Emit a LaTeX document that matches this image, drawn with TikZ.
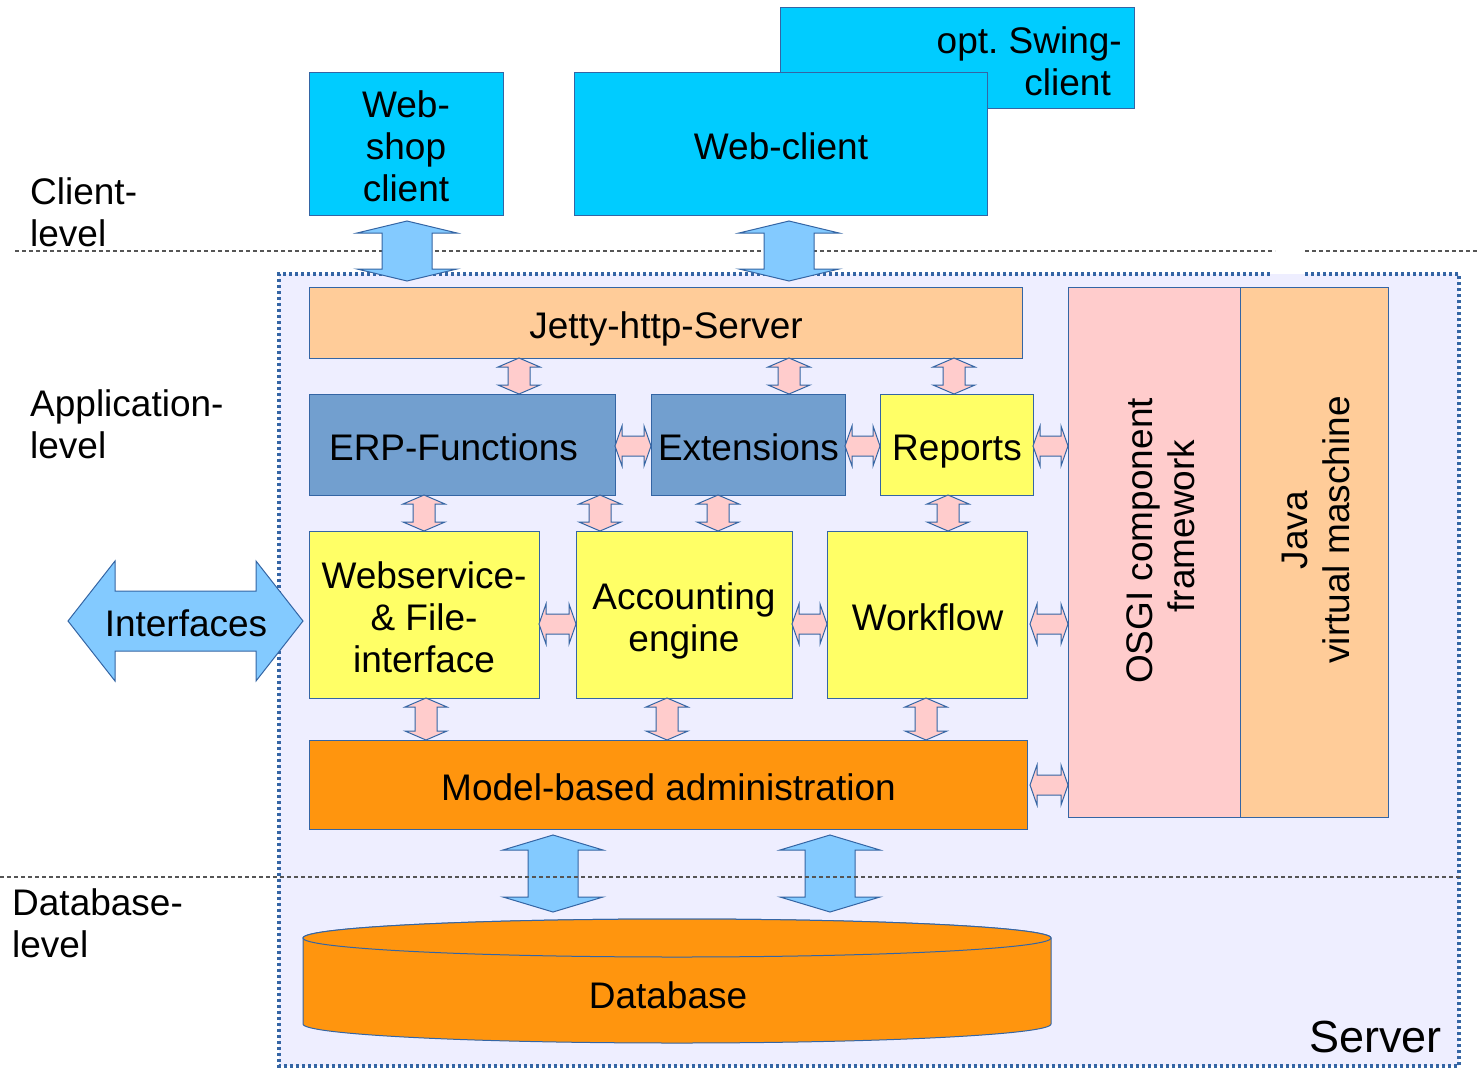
\documentclass[tikz,border=0pt]{standalone}
\usepackage{fontspec}
\setmainfont{Liberation Sans}
\definecolor{cyanbox}{HTML}{00CCFF}
\definecolor{bluebox}{HTML}{729FCF}
\definecolor{yellowbox}{HTML}{FFFF66}
\definecolor{peach}{HTML}{FFCC99}
\definecolor{pinkbox}{HTML}{FFCCCC}
\definecolor{orangebox}{HTML}{FF950E}
\definecolor{arrowblue}{HTML}{83CAFF}
\definecolor{edgeblue}{HTML}{3465A4}
\definecolor{serverbg}{HTML}{EEEEFF}
\definecolor{dashgray}{HTML}{555555}
\newcommand\VDArrow[7][]{\draw[#1] (#2,#3) -- ({#2+#5},{#3+#7}) -- ({#2+#6},{#3+#7}) -- ({#2+#6},{#4-#7}) -- ({#2+#5},{#4-#7}) -- (#2,#4) -- ({#2-#5},{#4-#7}) -- ({#2-#6},{#4-#7}) -- ({#2-#6},{#3+#7}) -- ({#2-#5},{#3+#7}) -- cycle;}
\newcommand\HDArrow[7][]{\draw[#1] (#3,#2) -- ({#3+#7},{#2-#5}) -- ({#3+#7},{#2-#6}) -- ({#4-#7},{#2-#6}) -- ({#4-#7},{#2-#5}) -- (#4,#2) -- ({#4-#7},{#2+#5}) -- ({#4-#7},{#2+#6}) -- ({#3+#7},{#2+#6}) -- ({#3+#7},{#2+#5}) -- cycle;}
\begin{document}
\begin{tikzpicture}[x=1pt,y=-1pt,
  every node/.style={font=\fontsize{37}{42}\selectfont, inner sep=0pt},
  box/.style={draw=edgeblue, line width=1pt, anchor=north west},
  one/.style={text height=33pt, text depth=2pt},
  bigarrow/.style={fill=arrowblue, draw=edgeblue, line width=1pt, line join=miter},
  smallarrow/.style={fill=pinkbox, draw=edgeblue, line width=1pt, line join=miter},
  levelline/.style={draw=dashgray, line width=1.2pt, dash pattern=on 4pt off 3pt},
  serverborder/.style={draw=edgeblue, line width=4pt, dash pattern=on 3pt off 3pt},
  lbl/.style={align=left, anchor=west}]
\useasboundingbox (0,0) rectangle (1479,1068);
% server background
\fill[serverbg] (279,274) rectangle (1459,1066);
\draw[serverborder] (1305,274) -- (1459,274) -- (1459,1066) -- (279,1066) -- (279,274) -- (1272,274);
% level lines (client line under top arrows)
\draw[levelline] (15,251) -- (1275,251);
\draw[levelline] (1305,251) -- (1479,251);
% client boxes
\node[box, fill=cyanbox, minimum width=354pt, minimum height=101pt] (swing) at (780,7) {};
\node[align=right, anchor=east] (swingtxt) at (1122,61) {opt.\ Swing-\\client\hspace*{11pt}};
\node[box, fill=cyanbox, minimum width=194pt, minimum height=143pt] (webshop) at (309,72) {};
\node[align=center] (webshoptxt) at (406,146) {Web-\\shop\\client};
\node[box, one, fill=cyanbox, minimum width=413pt, minimum height=143pt] (webclient) at (574,72) {Web-client};
% level labels
\node[lbl] (clientlvl) at (30,212) {Client-\\level};
\node[lbl] (applvl) at (30,424) {Application-\\level};
\node[lbl] (dblvl) at (12,923) {Database-\\level};
% top big arrows
\VDArrow[bigarrow]{407}{221}{281}{50}{25}{12}
\VDArrow[bigarrow]{789}{221}{281}{50}{25}{12}
% application boxes
\node[box, one, fill=peach, minimum width=713pt, minimum height=71pt] (jetty) at (309,287) {Jetty-http-Server};
\node[box, one, fill=bluebox, minimum width=306pt, minimum height=101pt] (erp) at (309,394) {\hspace{-18pt}ERP-Functions};
\node[box, one, fill=bluebox, minimum width=194pt, minimum height=101pt] (ext) at (651,394) {Extensions};
\node[box, one, fill=yellowbox, minimum width=153pt, minimum height=101pt] (reports) at (880,394) {Reports};
\node[box, fill=yellowbox, minimum width=230pt, minimum height=167pt] (websvc) at (309,531) {};
\node[align=center] (websvctxt) at (424,617) {Webservice-\\\& File-\\interface};
\node[box, fill=yellowbox, minimum width=216pt, minimum height=167pt] (acc) at (576,531) {};
\node[align=center] (acctxt) at (684,621) {Accounting\\engine};
\node[box, one, fill=yellowbox, minimum width=200pt, minimum height=167pt] (wf) at (827,531) {Workflow};
\node[box, one, fill=orangebox, minimum width=718pt, minimum height=89pt] (model) at (309,740) {Model-based administration};
\node[box, fill=pinkbox, minimum width=172pt, minimum height=530pt] (osgi) at (1068,287) {};
\node[rotate=90, align=center] (osgitxt) at (1161,541) {OSGI component\\\hspace*{30pt}framework};
\node[box, fill=peach, minimum width=148pt, minimum height=530pt] (jvm) at (1240,287) {};
\node[rotate=90, align=center] (jvmtxt) at (1316,530) {Java\\virtual maschine};
% small vertical arrows
\VDArrow[smallarrow]{519}{358}{394}{21}{11}{9}
\VDArrow[smallarrow]{789}{358}{394}{21}{11}{9}
\VDArrow[smallarrow]{954}{358}{394}{21}{11}{9}
\VDArrow[smallarrow]{424}{495}{531}{21}{11}{9}
\VDArrow[smallarrow]{600}{495}{531}{21}{11}{9}
\VDArrow[smallarrow]{718}{495}{531}{21}{11}{9}
\VDArrow[smallarrow]{948}{495}{531}{21}{11}{9}
\VDArrow[smallarrow]{426}{698}{740}{21}{11}{9}
\VDArrow[smallarrow]{667}{698}{740}{21}{11}{9}
\VDArrow[smallarrow]{926}{698}{740}{21}{11}{9}
% small horizontal arrows
\HDArrow[smallarrow]{446}{615}{651}{20}{10}{7}
\HDArrow[smallarrow]{446}{845}{880}{20}{10}{7}
\HDArrow[smallarrow]{446}{1033}{1068}{20}{10}{7}
\HDArrow[smallarrow]{624}{539}{576}{20}{10}{7}
\HDArrow[smallarrow]{624}{792}{827}{20}{10}{7}
\HDArrow[smallarrow]{624}{1030}{1068}{20}{10}{7}
\HDArrow[smallarrow]{785}{1030}{1068}{20}{10}{7}
% interfaces arrow
\HDArrow[bigarrow]{621}{68}{303}{60}{30}{47}
\node (interfaces) at (186,623) {Interfaces};
% bottom big arrows
\VDArrow[bigarrow]{553}{835}{912}{50}{25}{15}
\VDArrow[bigarrow]{830}{835}{912}{50}{25}{15}
\draw[levelline] (0,877) -- (1462,877);
% database cylinder
\draw[fill=orangebox, draw=edgeblue, line width=1pt] (303,938) -- (303,1024) arc[start angle=180, end angle=0, x radius=374, y radius=19] -- (1051,938) arc[start angle=360, end angle=180, x radius=374, y radius=19] -- cycle;
\draw[fill=orangebox, draw=edgeblue, line width=1pt] (677,938) ellipse[x radius=374, y radius=19];
\node (db) at (668,995) {Database};
\node[anchor=east, font=\fontsize{45}{50}\selectfont] (server) at (1442,1037) {Server};
\end{tikzpicture}
\end{document}
